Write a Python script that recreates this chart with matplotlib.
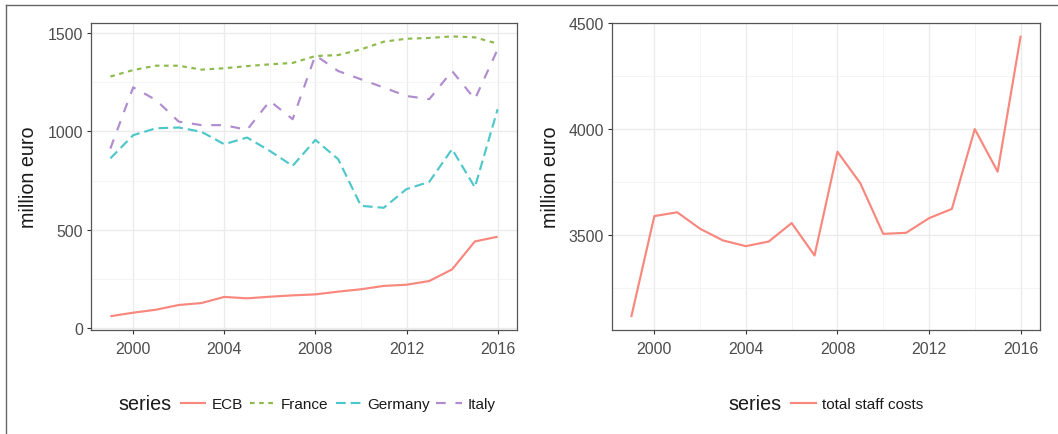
import matplotlib
matplotlib.use("Agg")
import matplotlib.pyplot as plt
from matplotlib.lines import Line2D
from matplotlib.ticker import FixedLocator

plt.rcParams['font.family'] = ['Liberation Sans', 'DejaVu Sans']
plt.rcParams['lines.scale_dashes'] = False

years = list(range(1999, 2017))
ecb = [61, 79, 94, 118, 128, 159, 152, 160, 167, 172, 186, 198, 215, 221, 240, 299, 441, 465]
france = [1279, 1312, 1334, 1334, 1314, 1321, 1332, 1341, 1348, 1383, 1388, 1417, 1456, 1471, 1475, 1483, 1478, 1446]
germany = [863, 981, 1016, 1020, 998, 935, 969, 901, 825, 957, 859, 622, 612, 707, 744, 910, 716, 1113]
italy = [913, 1224, 1160, 1050, 1032, 1032, 1008, 1155, 1062, 1387, 1307, 1265, 1223, 1180, 1164, 1307, 1164, 1417]
total_staff = [3118, 3590, 3608, 3530, 3475, 3448, 3470, 3557, 3404, 3894, 3745, 3506, 3511, 3580, 3624, 4001, 3800, 4437]

left_names = ["ECB", "France", "Germany", "Italy"]
right_names = ["total staff costs"]
ylabel = "million euro"
legend_title = "series"

colors = ["#F8877D", "#8DBA4A", "#4EC7CA", "#B08CCF"]
dashes = [None, (3.3, 3.3), (7.0, 3.6), (7.0, 7.0)]
LW = 1.55

W, H = 1058, 435
fig = plt.figure(figsize=(W / 100, H / 100), dpi=100)

def fx(px):
    return px / W

def fy(py):
    return 1 - py / H

ax1 = fig.add_axes([fx(91), fy(331), fx(517 - 91), (331 - 24) / H])
ax2 = fig.add_axes([fx(612), fy(331), fx(1040 - 612), (331 - 24) / H])

handles_left = []
for name, vals, c, d in zip(left_names, [ecb, france, germany, italy], colors, dashes):
    ln, = ax1.plot(years, vals, color=c, lw=LW, label=name, solid_capstyle='butt', dash_capstyle='butt')
    if d is not None:
        ln.set_dashes(d)
    handles_left.append(ln)

ln2, = ax2.plot(years, total_staff, color=colors[0], lw=LW, label=right_names[0])
handles_right = [ln2]

ax1.set_xlim(1998.15, 2016.85)
ax1.set_ylim(-9, 1551)
ax2.set_xlim(1998.15, 2016.85)
ax2.set_ylim(3052, 4502)

ax1.yaxis.set_major_locator(FixedLocator([0, 500, 1000, 1500]))
ax1.yaxis.set_minor_locator(FixedLocator([250, 750, 1250]))
ax2.yaxis.set_major_locator(FixedLocator([3500, 4000, 4500]))
ax2.yaxis.set_minor_locator(FixedLocator([3250, 3750, 4250]))

for ax, xlabx in [(ax1, (28 - 91) / 426), (ax2, (551 - 612) / 428)]:
    ax.xaxis.set_major_locator(FixedLocator([2000, 2004, 2008, 2012, 2016]))
    ax.xaxis.set_minor_locator(FixedLocator([2002, 2006, 2010, 2014]))
    ax.grid(True, which='major', color='#EBEBEB', lw=1.0)
    ax.grid(True, which='minor', color='#F2F2F2', lw=0.6)
    ax.set_axisbelow(True)
    for s in ax.spines.values():
        s.set_color('#555555')
        s.set_linewidth(0.9)
    ax.tick_params(which='major', length=3.2, width=0.8, color='#333333',
                   labelsize=11.4, labelcolor='#4D4D4D', pad=2.5)
    ax.tick_params(axis='x', which='major', pad=4.5)
    ax.tick_params(which='minor', length=0)
    ax.set_ylabel(ylabel, fontsize=14.2, color='#1A1A1A')
    ax.yaxis.set_label_coords(xlabx, 0.5)
    ax.yaxis.label.set_va('center')

# outer frame
fig.add_artist(Line2D([fx(5.5), 1.0], [fy(6), fy(6)], color='#666666', lw=1.0))
fig.add_artist(Line2D([fx(5.5), fx(5.5)], [0, fy(6)], color='#666666', lw=1.0))

def make_legend(ax, handles, cx_px, cy_px):
    leg = fig.legend(handles=handles, loc='center', bbox_to_anchor=(fx(cx_px), fy(cy_px)),
                     ncol=len(handles), frameon=False, fontsize=11,
                     handlelength=1.65, handletextpad=0.4, columnspacing=0.45,
                     borderpad=0, borderaxespad=0)
    for t in leg.get_texts():
        t.set_color('#1A1A1A')
    fig.canvas.draw()
    r = fig.canvas.get_renderer()
    lb = leg.get_window_extent(r)
    title = fig.text(0, fy(cy_px), legend_title, fontsize=14.2, color='#1A1A1A',
                     ha='left', va='center')
    tb = title.get_window_extent(r)
    gap = 9
    total = tb.width + gap + lb.width
    left = cx_px - total / 2
    title.set_x(fx(left))
    leg_cx = left + tb.width + gap + lb.width / 2
    leg.set_bbox_to_anchor((fx(leg_cx), fy(cy_px)), transform=fig.transFigure)
    return leg

make_legend(ax1, handles_left, 307, 405)
make_legend(ax2, handles_right, 826, 405)

fig.savefig("out.png", dpi=100)
